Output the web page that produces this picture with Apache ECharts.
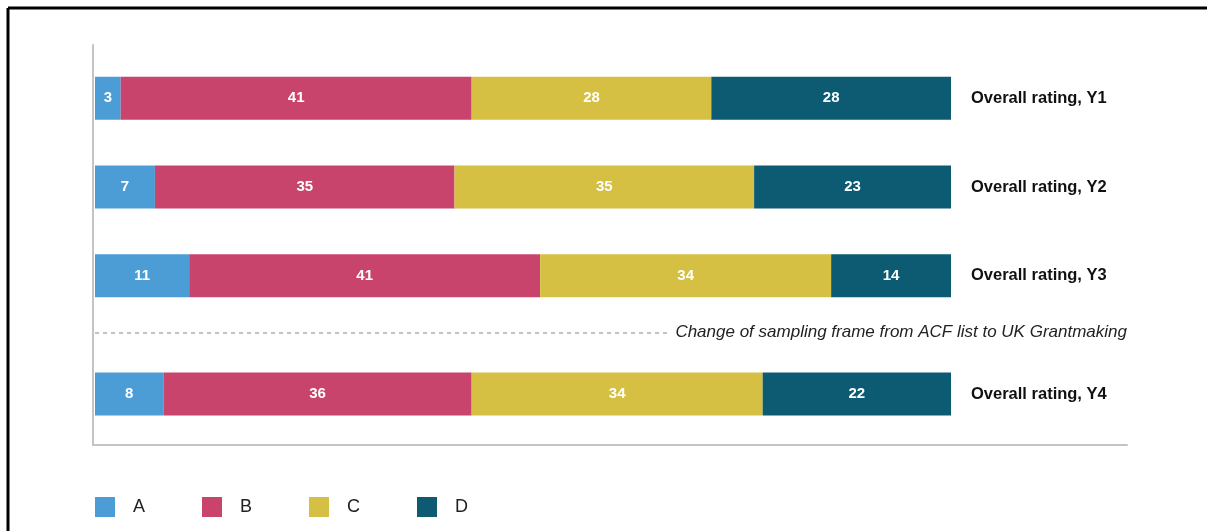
<!DOCTYPE html>
<html>
<head>
<meta charset="utf-8">
<script src="https://cdn.jsdelivr.net/npm/echarts@6/dist/echarts.min.js"></script>
<style>
  html, body { margin: 0; padding: 0; background: #fff; }
  #chart { width: 1207px; height: 531px; }
</style>
</head>
<body>
<div id="chart"></div>
<script>
const categories = ['Overall rating, Y1', 'Overall rating, Y2', 'Overall rating, Y3', 'Overall rating, Y4']
const seriesNames = ['A', 'B', 'C', 'D']
const ratingA = [3, 7, 11, 8]
const ratingB = [41, 35, 41, 36]
const ratingC = [28, 35, 34, 34]
const ratingD = [28, 23, 14, 22]
const noteText = 'Change of sampling frame from ACF list to UK Grantmaking'

const colors = ['#4c9dd6', '#c8446c', '#d5c043', '#0c5b73']
const values = [ratingA, ratingB, ratingC, ratingD]
const font = 'Liberation Sans, Arial, sans-serif'

const chart = echarts.init(document.getElementById('chart'))

// grid 0: Y1-Y3, grid 1: Y4 (after the sampling change), grid 2: axis frame only
const grids = [
  { left: 95, top: 54, width: 856, height: 266 },
  { left: 95, top: 350, width: 856, height: 88 },
  { left: 93, top: 45, width: 1034, height: 400 }
]

const makeX = (gridIndex) => ({
  type: 'value', gridIndex: gridIndex, min: 0, max: 100, show: false
})
const makeY = (gridIndex, data) => ({
  type: 'category',
  gridIndex: gridIndex,
  data: data,
  inverse: true,
  position: 'right',
  axisLine: { show: false },
  axisTick: { show: false },
  axisLabel: { margin: 20, color: '#111', fontSize: 16.5, fontWeight: 'bold', fontFamily: font }
})

const frameLine = { show: true, lineStyle: { color: '#c4c4c4', width: 2 } }

const series = []
seriesNames.forEach((name, i) => {
  const parts = [values[i].slice(0, 3), values[i].slice(3)]
  parts.forEach((data, g) => {
    series.push({
      name: name,
      type: 'bar',
      stack: 'g' + g,
      xAxisIndex: g,
      yAxisIndex: g,
      barWidth: 43,
      itemStyle: { color: colors[i] },
      label: {
        show: true,
        position: 'inside',
        color: '#fff',
        fontSize: 15,
        fontWeight: 'bold',
        fontFamily: font
      },
      data: data
    })
  })
})

chart.setOption({
  backgroundColor: '#fff',
  animation: false,
  grid: grids,
  xAxis: [
    makeX(0),
    makeX(1),
    {
      type: 'value', gridIndex: 2, min: 0, max: 1,
      axisLine: frameLine, axisTick: { show: false }, axisLabel: { show: false }, splitLine: { show: false }
    }
  ],
  yAxis: [
    makeY(0, categories.slice(0, 3)),
    makeY(1, categories.slice(3)),
    {
      type: 'value', gridIndex: 2, min: 0, max: 1,
      axisLine: frameLine, axisTick: { show: false }, axisLabel: { show: false }, splitLine: { show: false }
    }
  ],
  legend: {
    data: seriesNames,
    left: 95,
    top: 497,
    padding: 0,
    icon: 'rect',
    itemWidth: 20,
    itemHeight: 20,
    itemGap: 57,
    selectedMode: false,
    textStyle: { fontSize: 18, color: '#222', fontFamily: font, padding: [0, 0, 0, 13] }
  },
  graphic: [
    {
      type: 'line',
      shape: { x1: 8, y1: 8, x2: 1207, y2: 8 },
      style: { stroke: '#000', lineWidth: 3 }
    },
    {
      type: 'line',
      shape: { x1: 8, y1: 8, x2: 8, y2: 531 },
      style: { stroke: '#000', lineWidth: 3 }
    },
    {
      type: 'line',
      shape: { x1: 95, y1: 333, x2: 668, y2: 333 },
      style: { stroke: '#9a9a9a', lineWidth: 1.2, lineDash: [4, 4] }
    },
    {
      type: 'text',
      right: 80,
      top: 324,
      style: {
        text: noteText,
        fill: '#222',
        font: 'italic 17px ' + font
      }
    }
  ],
  series: series
})
</script>
</body>
</html>
